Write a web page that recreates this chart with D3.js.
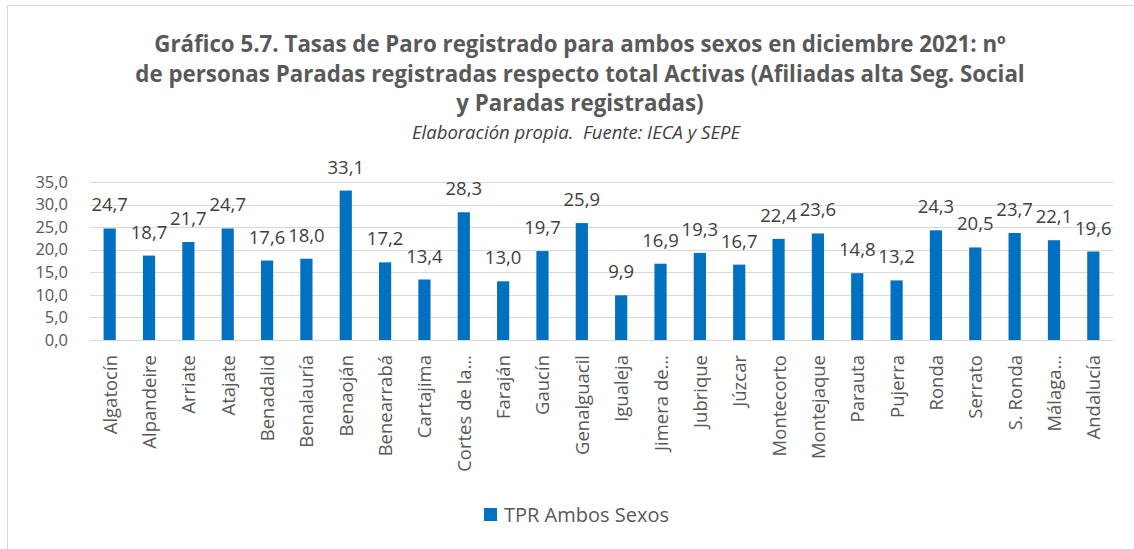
<!DOCTYPE html>
<html>
<head>
<meta charset="utf-8">
<script src="https://cdn.jsdelivr.net/npm/d3@7"></script>
<style>
  html, body { margin: 0; padding: 0; background: #fff; }
  svg { display: block; }
</style>
</head>
<body>
<svg id="chart" width="1134" height="549"></svg>
<script>
// Municipios and TPR (tasa de paro registrado, %) for December 2021
const municipios = [
  "Algatocín", "Alpandeire", "Arriate", "Atajate", "Benadalid", "Benalauría",
  "Benaoján", "Benearrabá", "Cartajima", "Cortes de la…", "Faraján", "Gaucín",
  "Genalguacil", "Igualeja", "Jimera de…", "Jubrique", "Júzcar", "Montecorto",
  "Montejaque", "Parauta", "Pujerra", "Ronda", "Serrato", "S. Ronda",
  "Málaga…", "Andalucía"
];
const tprAmbosSexos = [
  24.7, 18.7, 21.7, 24.7, 17.6, 18.0,
  33.1, 17.2, 13.4, 28.3, 13.0, 19.7,
  25.9, 9.9, 16.9, 19.3, 16.7, 22.4,
  23.6, 14.8, 13.2, 24.3, 20.5, 23.7,
  22.1, 19.6
];
const yTicks = [0, 5, 10, 15, 20, 25, 30, 35];
const titleLines = [
  "Gráfico 5.7. Tasas de Paro registrado para ambos sexos en diciembre 2021: nº",
  "de personas Paradas registradas respecto total Activas (Afiliadas alta Seg. Social",
  "y Paradas registradas)"
];
const subtitle = "Elaboración propia.  Fuente: IECA y SEPE";
const seriesName = "TPR Ambos Sexos";

const fmt = v => d3.format(".1f")(v).replace(".", ",");
const FONT = "'Open Sans', 'Noto Sans', sans-serif";
const BLUE = "#0070C0";

const svg = d3.select("#chart");

// outer chart frame
svg.append("rect")
  .attr("x", 7.5).attr("y", 5.5)
  .attr("width", 1140).attr("height", 560)
  .attr("fill", "#fff").attr("stroke", "#d9d9d9").attr("stroke-width", 1);

// title block
const title = svg.append("g").attr("font-family", FONT).attr("fill", "#595959");
title.selectAll("text.t")
  .data(titleLines)
  .join("text")
  .attr("class", "t")
  .attr("x", 580)
  .attr("y", (d, i) => 52 + i * 29.5)
  .attr("text-anchor", "middle")
  .attr("font-size", 22.3)
  .attr("font-weight", "bold")
  .text(d => d);
title.append("text")
  .attr("x", 576).attr("y", 139)
  .attr("text-anchor", "middle")
  .attr("font-size", 18.5)
  .attr("font-style", "italic")
  .attr("fill", "#404040")
  .style("white-space", "pre")
  .text(subtitle);

// plot area
const plot = { left: 90, right: 1113, top: 182, bottom: 340 };

const x = d3.scaleBand()
  .domain(municipios)
  .range([plot.left, plot.right])
  .paddingInner(0.69)
  .paddingOuter(0.345);

const y = d3.scaleLinear()
  .domain([0, 35])
  .range([plot.bottom, plot.top]);

// horizontal gridlines
svg.append("g")
  .selectAll("line")
  .data(yTicks)
  .join("line")
  .attr("x1", plot.left).attr("x2", plot.right)
  .attr("y1", d => Math.round(y(d)) + 0.5)
  .attr("y2", d => Math.round(y(d)) + 0.5)
  .attr("stroke", "#d9d9d9").attr("stroke-width", 1);

// y axis labels
const yAxis = svg.append("g")
  .attr("transform", `translate(${plot.left},0)`)
  .call(d3.axisLeft(y).tickValues(yTicks).tickFormat(fmt).tickSize(0).tickPadding(22));
yAxis.select(".domain").remove();
yAxis.selectAll("text")
  .attr("font-family", FONT)
  .attr("font-size", 16.5)
  .attr("fill", "#595959");

// bars
svg.append("g")
  .selectAll("rect")
  .data(tprAmbosSexos)
  .join("rect")
  .attr("x", (d, i) => x(municipios[i]))
  .attr("width", x.bandwidth())
  .attr("y", d => y(d))
  .attr("height", d => y(0) - y(d))
  .attr("fill", BLUE);

// data labels
svg.append("g")
  .selectAll("text")
  .data(tprAmbosSexos)
  .join("text")
  .attr("x", (d, i) => x(municipios[i]) + x.bandwidth() / 2)
  .attr("y", d => y(d) - 17)
  .attr("text-anchor", "middle")
  .attr("font-family", FONT)
  .attr("font-size", 18.5)
  .attr("fill", "#404040")
  .text(fmt);

// x axis (category labels, rotated)
const xAxis = svg.append("g")
  .attr("transform", `translate(0,${plot.bottom})`)
  .call(d3.axisBottom(x).tickSize(0).tickPadding(0));
xAxis.select(".domain").remove();
xAxis.selectAll("text")
  .attr("font-family", FONT)
  .attr("font-size", 18.5)
  .attr("fill", "#595959")
  .attr("text-anchor", "end")
  .attr("dy", null)
  .attr("transform", "translate(7,15) rotate(-90)");

// legend
const legend = svg.append("g").attr("transform", "translate(484,508)");
legend.append("rect")
  .attr("width", 13).attr("height", 13)
  .attr("fill", BLUE);
legend.append("text")
  .attr("x", 20).attr("y", 13.5)
  .attr("font-family", FONT)
  .attr("font-size", 20)
  .attr("fill", "#595959")
  .text(seriesName);
</script>
</body>
</html>
